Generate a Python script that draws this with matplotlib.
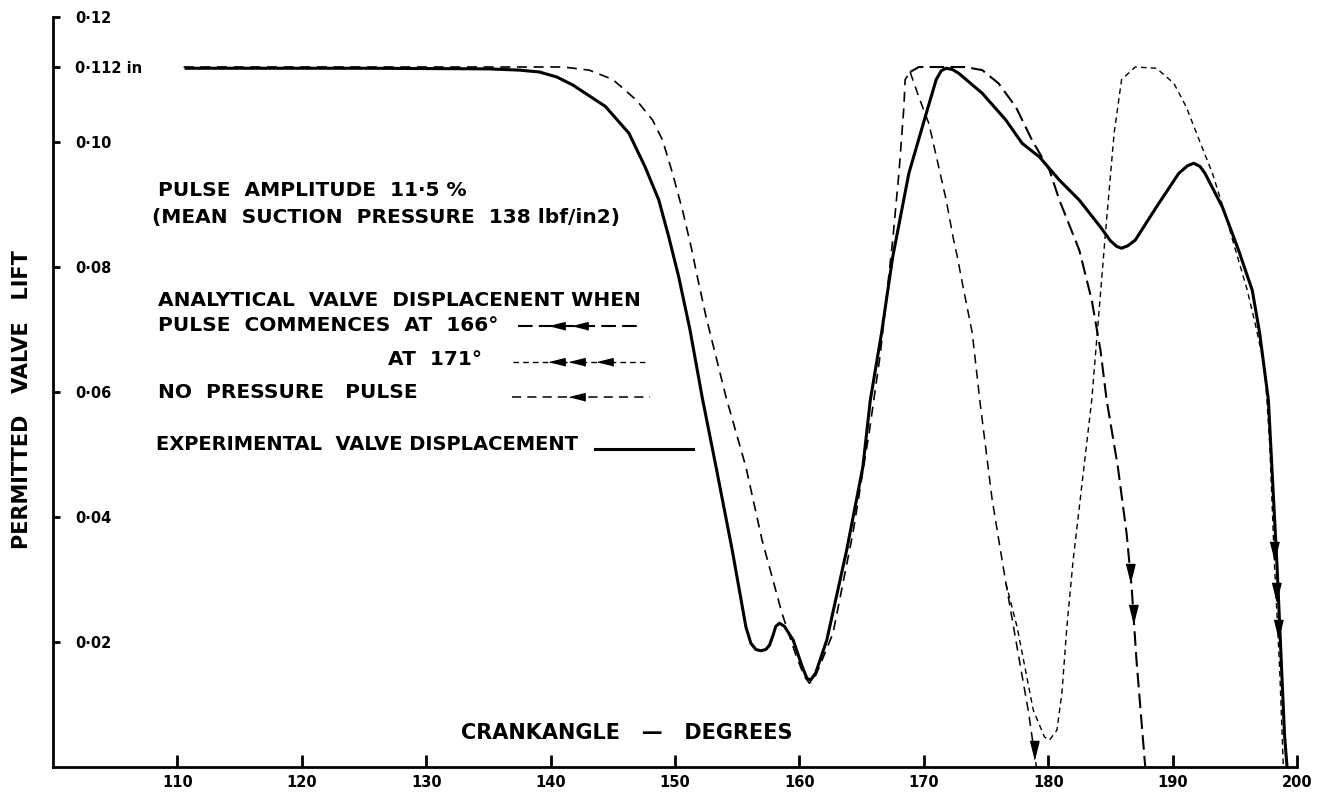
import numpy as np
import matplotlib.pyplot as plt

# crank angle (deg) / permitted valve lift (in)
# experimental valve displacement
exp_x = [110.7, 125.0, 135.0, 137.5, 139.1, 140.5, 141.8, 144.4, 146.3, 147.6,
         148.7, 149.5, 150.3, 151.2, 152.2, 153.3, 154.6, 155.2, 155.7, 156.1,
         156.5, 156.9, 157.3, 157.6, 157.9, 158.1, 158.4, 158.8, 159.5, 160.2,
         160.6, 160.9, 161.3, 162.2, 163.8, 165.1, 165.7, 166.6, 167.5, 168.8,
         170.2, 171.0, 171.4, 171.8, 172.3, 172.8, 174.7, 176.6, 177.9, 179.3,
         180.9, 182.5, 184.2, 185.0, 185.5, 185.9, 186.4, 187.0, 188.7, 190.5,
         191.2, 191.7, 192.2, 192.6, 194.0, 195.3, 196.4, 197.0, 197.7, 198.4,
         199.0, 199.2]
exp_y = [0.1118, 0.1118, 0.1117, 0.1115, 0.1112, 0.1104, 0.1091, 0.1057, 0.1014, 0.0960,
         0.0907, 0.0848, 0.0784, 0.0700, 0.0590, 0.0480, 0.0347, 0.0280, 0.0224, 0.0198,
         0.0188, 0.0186, 0.0188, 0.0195, 0.0212, 0.0225, 0.0230, 0.0225, 0.0203, 0.0162,
         0.0142, 0.0139, 0.0150, 0.0203, 0.0347, 0.0480, 0.0587, 0.0694, 0.0816, 0.0950,
         0.1046, 0.1100, 0.1114, 0.1118, 0.1116, 0.1110, 0.1078, 0.1035, 0.0998, 0.0976,
         0.0939, 0.0907, 0.0864, 0.0842, 0.0833, 0.0830, 0.0834, 0.0843, 0.0896, 0.0950,
         0.0962, 0.0966, 0.0961, 0.0950, 0.0896, 0.0827, 0.0763, 0.0694, 0.0587, 0.0320,
         0.0050, 0.0]

# analytical: part shared by all three curves
common_x = [110.5, 125.0, 141.0, 143.1, 145.0, 146.9, 148.2, 149.0, 149.8, 150.6,
            151.3, 151.8, 152.5, 154.1, 155.7, 157.0, 158.6, 159.7, 160.4, 160.8,
            161.2, 161.6, 162.7, 164.3, 165.6, 166.5, 167.5, 168.0, 168.4, 168.5,
            168.9]
common_y = [0.1120, 0.1120, 0.1120, 0.1115, 0.1100, 0.1067, 0.1035, 0.1003, 0.0950, 0.0891,
            0.0832, 0.0784, 0.0720, 0.0592, 0.0480, 0.0363, 0.0246, 0.0180, 0.0145, 0.0134,
            0.0142, 0.0160, 0.0214, 0.0374, 0.0534, 0.0660, 0.0843, 0.0950, 0.1056, 0.1100,
            0.1112]

# no pressure pulse
nopulse_x = [168.9, 169.6, 170.4, 171.2, 171.8, 172.4, 172.7, 173.1, 173.9, 174.5,
             175.5, 176.6, 177.6, 178.4, 179.05]
nopulse_y = [0.1112, 0.1072, 0.1030, 0.0960, 0.0907, 0.0843, 0.0816, 0.0774, 0.0694, 0.0587,
             0.0427, 0.0294, 0.0180, 0.0090, 0.0]

# pulse commences at 166 deg
p166_x = [168.9, 169.6, 173.3, 174.7, 176.0, 177.4, 178.7, 180.1, 180.9, 182.5,
          183.5, 184.2, 184.7, 185.6, 186.3, 186.7, 187.1, 187.8]
p166_y = [0.1112, 0.1120, 0.1120, 0.1115, 0.1094, 0.1056, 0.1003, 0.0955, 0.0907, 0.0827,
          0.0747, 0.0667, 0.0587, 0.0480, 0.0374, 0.0290, 0.0170, 0.0]

# pulse commences at 171 deg (leaves the no-pulse curve near 176.6)
p171_x = [176.6, 177.5, 178.8, 179.7, 180.1, 180.7, 181.1, 181.5, 182.0, 183.5,
          184.6, 185.3, 185.9, 187.0, 188.7, 190.1, 191.1, 192.2, 193.2, 194.3,
          194.9, 196.0, 196.7, 197.4, 197.8, 198.2, 198.6, 198.9]
p171_y = [0.0294, 0.0224, 0.0091, 0.0048, 0.0043, 0.0059, 0.0118, 0.0224, 0.0330, 0.0587,
          0.0854, 0.1014, 0.1100, 0.1120, 0.1118, 0.1094, 0.1056, 0.1000, 0.0950, 0.0880,
          0.0838, 0.0763, 0.0704, 0.0640, 0.0520, 0.0320, 0.0160, 0.0]

# arrow heads on the closing parts (crank angle)
arrows_nopulse = [178.85]
arrows_166 = [186.6, 186.85]
arrows_171 = [198.15, 198.3, 198.45]

yticks = [0.02, 0.04, 0.06, 0.08, 0.10, 0.112, 0.12]
ytick_labels = ['0·02', '0·04', '0·06', '0·08', '0·10', '0·112 in', '0·12']
xticks = [110, 120, 130, 140, 150, 160, 170, 180, 190, 200]

W, H = 1324, 796
def px(x, y):
    return x / W, 1 - y / H

ARROW_DN = [(-0.5, 1.0), (0.5, 1.0), (0.0, -1.0)]
ARROW_LT = [(1.0, -0.5), (1.0, 0.5), (-1.0, 0.0)]

fig = plt.figure(figsize=(W / 100, H / 100), dpi=100)
ax = fig.add_axes([53 / W, 1 - 767 / H, 1244 / W, 750 / H])

ax.plot(exp_x, exp_y, color='black', lw=2.2, solid_joinstyle='round')
ax.plot(common_x, common_y, color='black', lw=1.2, ls=(0, (6, 4)))
ax.plot(nopulse_x, nopulse_y, color='black', lw=1.1, ls=(0, (6, 4)))
ax.plot(p166_x, p166_y, color='black', lw=1.5, ls=(0, (7, 3)))
ax.plot(p171_x, p171_y, color='black', lw=1.0, ls=(0, (4, 3)))

def arrow_marks(xs, cx, cy):
    # y of the arrow read from the last (falling) part of the curve
    cx = np.array(cx)
    cy = np.array(cy)
    ys = np.interp(xs, cx[-8:], cy[-8:])
    ax.plot(xs, ys, ls='none', marker=ARROW_DN, ms=13, color='black')

arrow_marks(arrows_nopulse, nopulse_x, nopulse_y)
arrow_marks(arrows_166, p166_x, p166_y)
arrow_marks(arrows_171, p171_x, p171_y)

ax.set_xlim(100, 200)
ax.set_ylim(0, 0.12)
for s in ['top', 'right']:
    ax.spines[s].set_visible(False)
for s in ['left', 'bottom']:
    ax.spines[s].set_linewidth(2.0)

ax.set_xticks(xticks)
ax.set_xticklabels([str(t) for t in xticks])
ax.set_yticks(yticks)
ax.set_yticklabels(ytick_labels)
ax.tick_params(axis='x', direction='in', length=9, width=2, pad=6, labelsize=10.5)
ax.tick_params(axis='y', direction='in', length=5, width=2, pad=-16, labelsize=10.5)
for lab in ax.get_yticklabels():
    lab.set_horizontalalignment('left')
for lab in ax.get_xticklabels() + ax.get_yticklabels():
    lab.set_fontweight('bold')

tk = dict(fontsize=14.5, fontweight='bold', ha='left', va='center')
fig.text(*px(158, 190), 'PULSE  AMPLITUDE  11·5 %', **tk)
fig.text(*px(152, 217), '(MEAN  SUCTION  PRESSURE  138 lbf/in2)', **tk)
fig.text(*px(158, 300), 'ANALYTICAL  VALVE  DISPLACENENT WHEN', **tk)
fig.text(*px(158, 325), 'PULSE  COMMENCES  AT  166°', **tk)
fig.text(*px(388, 360), 'AT  171°', **tk)
fig.text(*px(158, 392), 'NO  PRESSURE   PULSE', **tk)
fig.text(*px(156, 444), 'EXPERIMENTAL  VALVE DISPLACEMENT', fontsize=14,
         fontweight='bold', ha='left', va='center')

# legend samples
def sample(x0, x1, y, arrows, lw, ls):
    fx0, fy = px(x0, y)
    fx1, _ = px(x1, y)
    ax.plot([fx0, fx1], [fy, fy], color='black', lw=lw, ls=ls,
            transform=fig.transFigure, clip_on=False)
    for a in arrows:
        ax.plot([px(a, y)[0]], [fy], marker=ARROW_LT, ms=11, color='black',
                transform=fig.transFigure, clip_on=False)

sample(518, 643, 326, [557, 580], 1.5, (0, (7, 3)))
sample(513, 645, 362, [557, 577, 605], 1.0, (0, (4, 3)))
sample(512, 650, 397, [577], 1.1, (0, (6, 4)))
sample(595, 693, 449, [], 2.2, '-')

fig.text(*px(22, 400), 'PERMITTED   VALVE   LIFT', fontsize=15, fontweight='bold',
         rotation=90, ha='center', va='center')
fig.text(*px(627, 733), 'CRANKANGLE   —   DEGREES', fontsize=15, fontweight='bold',
         ha='center', va='center')

fig.savefig('out.png', dpi=100)
